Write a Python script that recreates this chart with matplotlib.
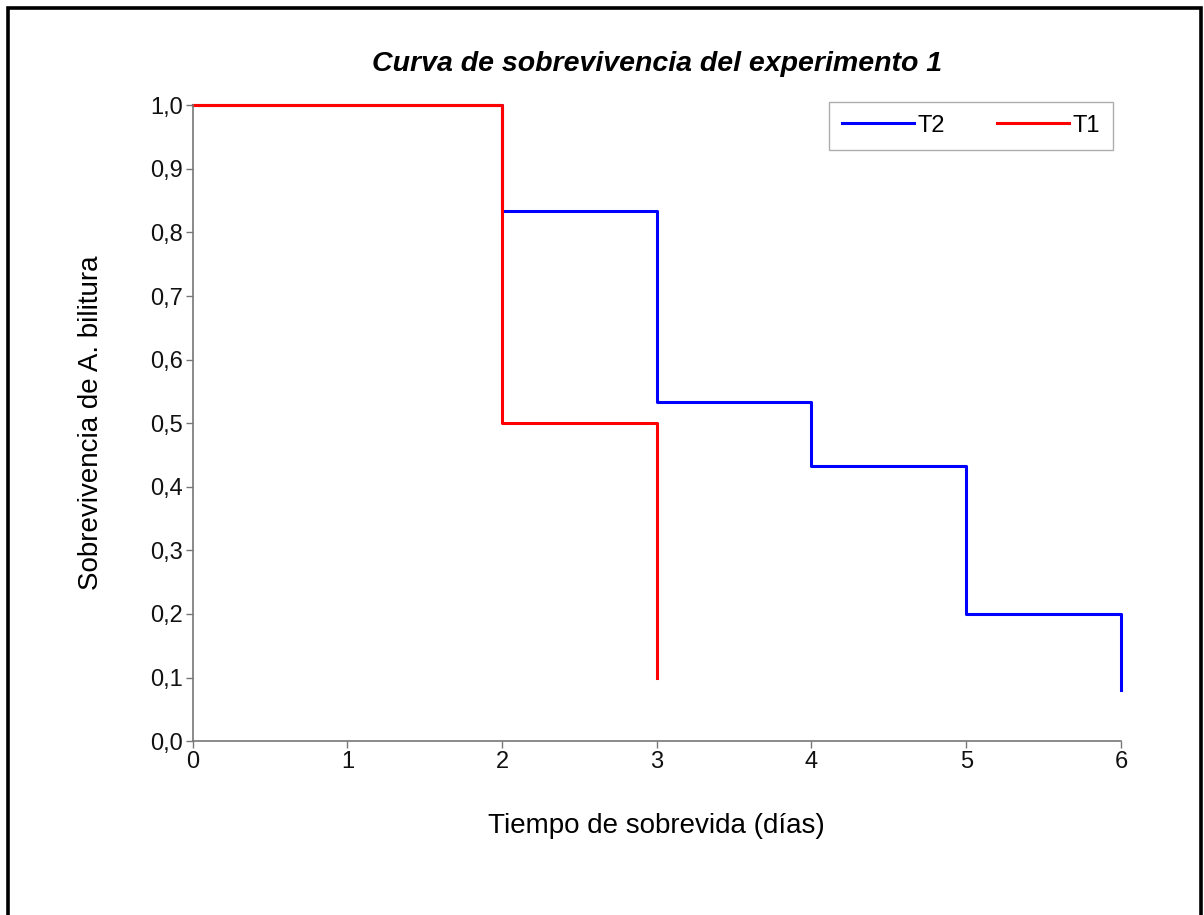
import matplotlib.pyplot as plt
from matplotlib.patches import Rectangle

plt.rcParams['font.family'] = ['Liberation Sans', 'DejaVu Sans']

# Kaplan-Meier style survival steps per treatment
dias = [0, 1, 2, 3, 4, 5, 6]
t2_tiempo = [0, 2, 3, 4, 5, 6]
t2_superv = [1.0, 0.833, 0.533, 0.433, 0.2, 0.08]
t1_tiempo = [0, 2, 3]
t1_superv = [1.0, 0.5, 0.1]

yticks = [0.0, 0.1, 0.2, 0.3, 0.4, 0.5, 0.6, 0.7, 0.8, 0.9, 1.0]
ytick_labels = [f"{v:.1f}".replace('.', ',') for v in yticks]

fig = plt.figure(figsize=(12.04, 9.15), dpi=100)
ax = fig.add_axes([0.160, 0.190, 0.771, 0.695])

# black frame around the whole figure
fig.patches.append(Rectangle((0.0065, -0.02), 0.991, 1.0115, transform=fig.transFigure,
                             fill=False, edgecolor='black', linewidth=2.6))

ax.step(t2_tiempo, t2_superv, where='post', color='#0000ff', lw=2.2, label='T2', clip_on=False)
ax.step(t1_tiempo, t1_superv, where='post', color='#ff0000', lw=2.2, label='T1', clip_on=False)

ax.set_xlim(0, 6)
ax.set_ylim(0, 1)
ax.set_xticks(dias)
ax.set_yticks(yticks)
ax.set_yticklabels(ytick_labels)

for s in ['top', 'right']:
    ax.spines[s].set_visible(False)
for s in ['left', 'bottom']:
    ax.spines[s].set_color('#777777')
    ax.spines[s].set_linewidth(1.2)
ax.tick_params(direction='out', length=5, width=1, color='#777777',
               labelsize=17, labelcolor='#111111', pad=2)

ax.set_title('Curva de sobrevivencia del experimento 1', fontsize=20.5,
             fontstyle='italic', fontweight='bold', pad=25)
ax.set_xlabel('Tiempo de sobrevida (días)', fontsize=20, labelpad=29)
ax.set_ylabel('Sobrevivencia de A. bilitura', fontsize=20, labelpad=33)

leg = ax.legend(ncol=2, loc='upper right', bbox_to_anchor=(1.004, 1.024),
                fontsize=17, frameon=True, fancybox=False, handlelength=3.05,
                columnspacing=2.2, handletextpad=0.15, borderpad=0.55)
leg.get_frame().set_edgecolor('#999999')
leg.get_frame().set_linewidth(1)

fig.savefig('out.png', dpi=100)
